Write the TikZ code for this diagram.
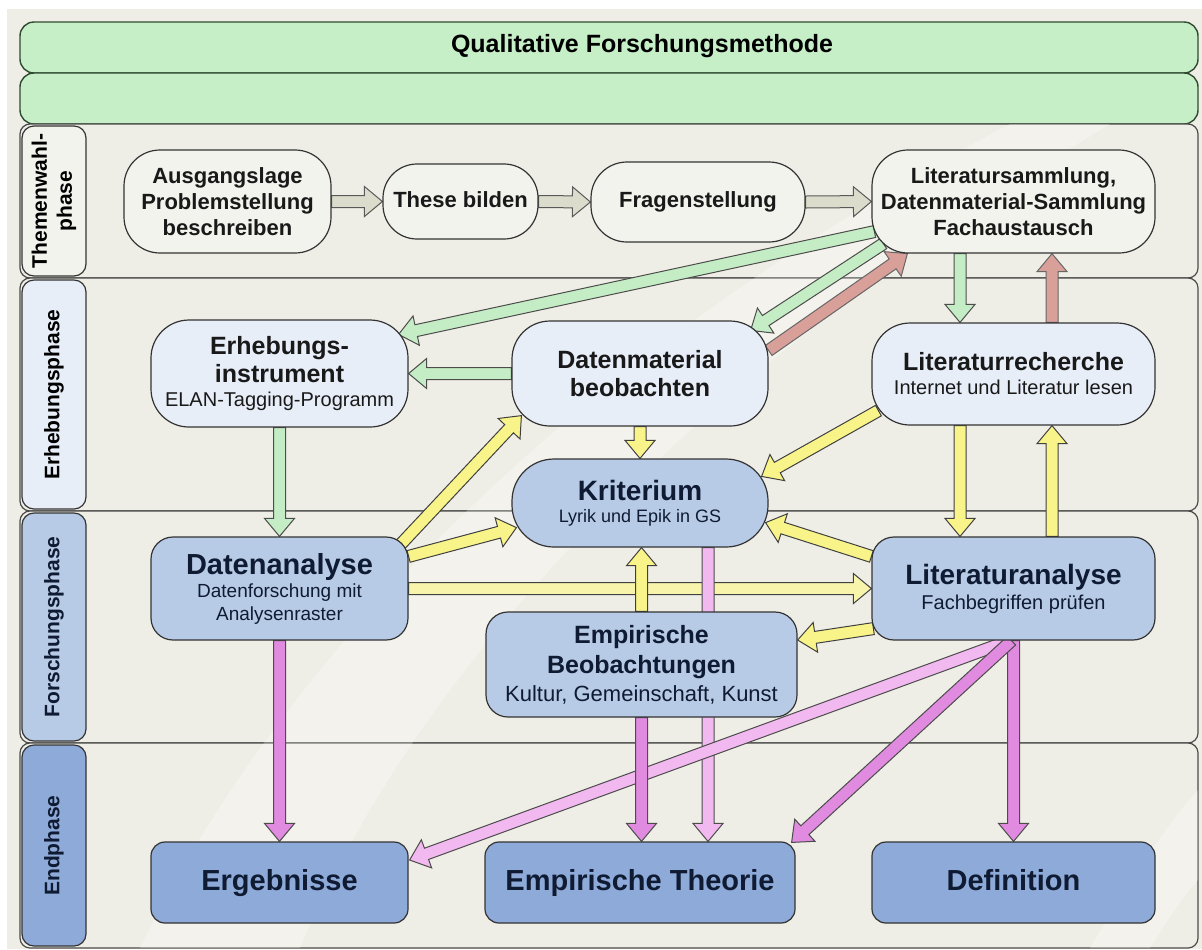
\documentclass[tikz,border=0pt]{standalone}
\usepackage{fontspec}
\setmainfont{Liberation Sans}
\usetikzlibrary{calc}

\definecolor{bgcol}{HTML}{EFEEE6}
\definecolor{barfill}{HTML}{C6EFC8}
\definecolor{bardraw}{HTML}{2F4A2F}
\definecolor{lanedraw}{HTML}{4A4A4A}
\definecolor{themefill}{HTML}{F3F3EE}
\definecolor{erhfill}{HTML}{E8EEF8}
\definecolor{midfill}{HTML}{B8CBE6}
\definecolor{endfill}{HTML}{8DAAD8}
\definecolor{navy}{HTML}{0F1B33}
\definecolor{arrgray}{HTML}{DCDCCC}
\definecolor{arrgreen}{HTML}{C5EDC5}
\definecolor{arrred}{HTML}{D9A09A}
\definecolor{arryel}{HTML}{F9F48A}
\definecolor{arrlyel}{HTML}{F8F4AC}
\definecolor{arrmag}{HTML}{E08AE0}
\definecolor{arrpink}{HTML}{F2B8F0}

\pgfdeclarelayer{lanes}
\pgfdeclarelayer{arrows}
\pgfsetlayers{lanes,arrows,main}

% block arrow: style, from, to
\newcommand{\arrowsw}{3pt}
\newcommand{\arrowhw}{7.5pt}
\newcommand{\arrowhl}{9pt}
\newcommand{\fatarrow}[3]{%
  \coordinate (fa-s) at (#2);
  \coordinate (fa-e) at (#3);
  \coordinate (fa-c) at ($(fa-e)!\arrowhl!(fa-s)$);
  \draw[#1] ($(fa-s)!\arrowsw!90:(fa-e)$) -- ($(fa-c)!\arrowsw!90:(fa-e)$)
    -- ($(fa-c)!\arrowhw!90:(fa-e)$) -- (fa-e) -- ($(fa-c)!\arrowhw!-90:(fa-e)$)
    -- ($(fa-c)!\arrowsw!-90:(fa-e)$) -- ($(fa-s)!\arrowsw!-90:(fa-e)$) -- cycle;
}
\newcommand{\subtxt}[2]{{\mdseries\fontsize{#1}{#1}\selectfont #2}}

\begin{document}
\begin{tikzpicture}[x=0.5pt,y=-0.5pt,
  basebox/.style={draw=black!80, line width=0.6pt, align=center, inner sep=0pt},
  themebox/.style={basebox, fill=themefill, text=black!90, font=\fontsize{11}{13}\selectfont\bfseries},
  oneline/.style={text height=8pt, text depth=2.4pt},
  erhbox/.style={basebox, fill=erhfill, text=black!90, font=\fontsize{12.5}{14}\selectfont\bfseries, rounded corners=19pt},
  midbox/.style={basebox, fill=midfill, text=navy, rounded corners=11pt},
  endbox/.style={basebox, fill=endfill, text=navy, font=\fontsize{14.5}{17}\selectfont\bfseries, rounded corners=7pt, minimum height=40.5pt, text height=10.5pt, text depth=3pt},
  phasestrip/.style={draw=black!80, line width=0.6pt, rounded corners=6pt, rotate=90, minimum height=32pt, inner sep=0pt, align=center, font=\fontsize{10.5}{12.5}\selectfont\bfseries},
  lanerow/.style={draw=lanedraw, line width=0.6pt, fill=bgcol, rounded corners=5pt},
  greenbar/.style={draw=bardraw, line width=0.7pt, fill=barfill, rounded corners=7pt},
  grayarr/.style={fill=arrgray, draw=black!65, line width=0.5pt},
  greenarr/.style={fill=arrgreen, draw=black!70, line width=0.5pt},
  redarr/.style={fill=arrred, draw=black!60, line width=0.5pt},
  yelarr/.style={fill=arryel, draw=black!75, line width=0.5pt},
  lyelarr/.style={fill=arrlyel, draw=black!75, line width=0.5pt},
  magarr/.style={fill=arrmag, draw=black!70, line width=0.5pt},
  pinkarr/.style={fill=arrpink, draw=black!70, line width=0.5pt}]

\useasboundingbox (0,0) rectangle (1202,949);

\begin{pgfonlayer}{lanes}
% background
\fill[white] (0,0) rectangle (1202,949);
\fill[bgcol] (7,9) rectangle (1202,949);

% header bars
\draw[greenbar] (20,22) rectangle (1198,73);
\draw[greenbar] (20,73) rectangle (1198,124);

% lanes
\draw[lanerow] (20,124) rectangle (1198,278);
\draw[lanerow] (20,278) rectangle (1198,511);
\draw[lanerow] (20,511) rectangle (1198,743);
\draw[lanerow] (20,743) rectangle (1198,948);

% light sweep
\fill[white, opacity=0.25] (140,948) .. controls (300,620) and (620,330) .. (1010,124)
  -- (1110,124) .. controls (720,360) and (430,640) .. (300,948) -- cycle;
\fill[white, opacity=0.25] (1090,948) .. controls (1130,880) and (1170,820) .. (1198,790)
  -- (1198,880) .. controls (1180,900) and (1165,925) .. (1150,948) -- cycle;
\end{pgfonlayer}

\node (title) at (642,46) {\fontsize{12.5}{15}\selectfont\bfseries Qualitative Forschungsmethode};

% phase labels
\node (sthem) at (54,201) [phasestrip, fill=themefill, minimum width=75pt] {Themenwahl-\\phase};
\node (serh) at (54,394.5) [phasestrip, fill=erhfill, minimum width=114.5pt] {Erhebungsphase};
\node (sfor) at (54,627) [phasestrip, fill=midfill, text=navy, minimum width=114pt] {Forschungsphase};
\node (send) at (54,845.5) [phasestrip, fill=endfill, text=navy, minimum width=100.5pt] {Endphase};

% Themenwahlphase
\node (ausg) at (227.5,201.5) [themebox, minimum width=103.5pt, minimum height=51.5pt, rounded corners=18pt] {Ausgangslage\\Problemstellung\\beschreiben};
\node (these) at (460.5,201.5) [themebox, oneline, minimum width=77.5pt, minimum height=37.5pt, rounded corners=17pt] {These bilden};
\node (frag) at (698,202) [themebox, oneline, minimum width=107pt, minimum height=40pt, rounded corners=18pt] {Fragenstellung};
\node (lsam) at (1013.5,201.5) [themebox, minimum width=141.5pt, minimum height=51.5pt, rounded corners=18pt] {Literatursammlung,\\Datenmaterial-Sammlung\\Fachaustausch};

% Erhebungsphase
\node (erh) at (279.5,373.5) [erhbox, minimum width=128.5pt, minimum height=53.5pt] {Erhebungs-\\instrument\\[-2pt]\subtxt{10}{ELAN-Tagging-Programm}};
\node (datm) at (640,373.5) [erhbox, minimum width=128pt, minimum height=52.5pt] {Datenmaterial\\beobachten};
\node (lrec) at (1013.5,374) [erhbox, minimum width=141.5pt, minimum height=51pt] {Literaturrecherche\\[-2pt]\subtxt{10}{Internet und Literatur lesen}};
\node (krit) at (640,503) [midbox, rounded corners=21pt, minimum width=128pt, minimum height=44pt, font=\fontsize{14}{16}\selectfont\bfseries] {Kriterium\\[-5pt]\subtxt{9}{Lyrik und Epik in GS}};

% Forschungsphase
\node (dana) at (279.5,588.5) [midbox, minimum width=128.5pt, minimum height=51.5pt, font=\fontsize{14.5}{14}\selectfont\bfseries] {Datenanalyse\\[-2.5pt]\subtxt{9.5}{Datenforschung mit}\\[-2.5pt]\subtxt{9.5}{Analysenraster}};
\node (lana) at (1013.5,588.5) [midbox, minimum width=141.5pt, minimum height=51.5pt, font=\fontsize{14}{16}\selectfont\bfseries] {Literaturanalyse\\[-3.5pt]\subtxt{10}{Fachbegriffen pr\"ufen}};
\node (emp) at (641.5,664.5) [midbox, minimum width=155.5pt, minimum height=52.5pt, font=\fontsize{12.5}{14}\selectfont\bfseries] {Empirische\\[1pt]Beobachtungen\\\subtxt{11}{Kultur, Gemeinschaft, Kunst}};

% Endphase
\node (erg) at (279.5,882.5) [endbox, minimum width=128.5pt] {Ergebnisse};
\node (emth) at (640,882.5) [endbox, minimum width=155pt] {Empirische Theorie};
\node (defi) at (1013.5,882.5) [endbox, minimum width=141.5pt] {Definition};

\begin{pgfonlayer}{arrows}
% Themenwahl chain
\fatarrow{grayarr}{ausg.east}{these.west}
\fatarrow{grayarr}{these.east}{frag.west}
\fatarrow{grayarr}{frag.east}{lsam.west}

% green arrows
\fatarrow{greenarr}{$(lsam.south west)+(3,-22)$}{$(erh.north east)+(-10,15)$}
\fatarrow{greenarr}{$(lsam.south west)+(12,-10)$}{$(datm.north east)+(-18,10)$}
\fatarrow{greenarr}{datm.west}{erh.east}
\fatarrow{greenarr}{$(lsam.south)+(-53.5,0)$}{$(lrec.north)+(-53.5,0)$}
\fatarrow{greenarr}{erh.south}{dana.north}

% red arrows
\fatarrow{redarr}{$(datm.east)+(0,-23)$}{$(lsam.south west)+(36,0)$}
\fatarrow{redarr}{$(lrec.north)+(38.5,0)$}{$(lsam.south)+(38.5,0)$}

% yellow arrows
\fatarrow{lyelarr}{dana.east}{lana.west}
\fatarrow{yelarr}{datm.south}{krit.north}
\fatarrow{yelarr}{$(lrec.south west)+(7,-15)$}{$(krit.north east)+(-7,18)$}
\fatarrow{yelarr}{$(lrec.south)+(-53.5,0)$}{$(lana.north)+(-53.5,0)$}
\fatarrow{yelarr}{$(lana.north)+(38.5,0)$}{$(lrec.south)+(38.5,0)$}
\fatarrow{yelarr}{$(lana.north west)+(0,20)$}{$(krit.south east)+(-3,-25)$}
\fatarrow{yelarr}{$(dana.north east)+(-8,8)$}{$(datm.south west)+(10,-11)$}
\fatarrow{yelarr}{$(dana.north east)+(0,20)$}{$(krit.south west)+(5,-20)$}
\fatarrow{yelarr}{emp.north}{emp.north |- krit.south}
\fatarrow{yelarr}{$(lana.south west)+(2,-12)$}{$(emp.east)+(0,-24.5)$}

% magenta arrows
\fatarrow{pinkarr}{$(krit.south)+(68,0)$}{$(emth.north)+(68,0)$}
\fatarrow{pinkarr}{$(lana.south)+(-4,0)$}{$(erg.east)+(1,-22.5)$}
\fatarrow{magarr}{dana.south}{erg.north}
\fatarrow{magarr}{emp.south}{emp.south |- emth.north}
\fatarrow{magarr}{lana.south}{defi.north}
\fatarrow{magarr}{$(lana.south)+(-2,0)$}{$(emth.north east)+(-4,1)$}
\end{pgfonlayer}
\end{tikzpicture}
\end{document}
